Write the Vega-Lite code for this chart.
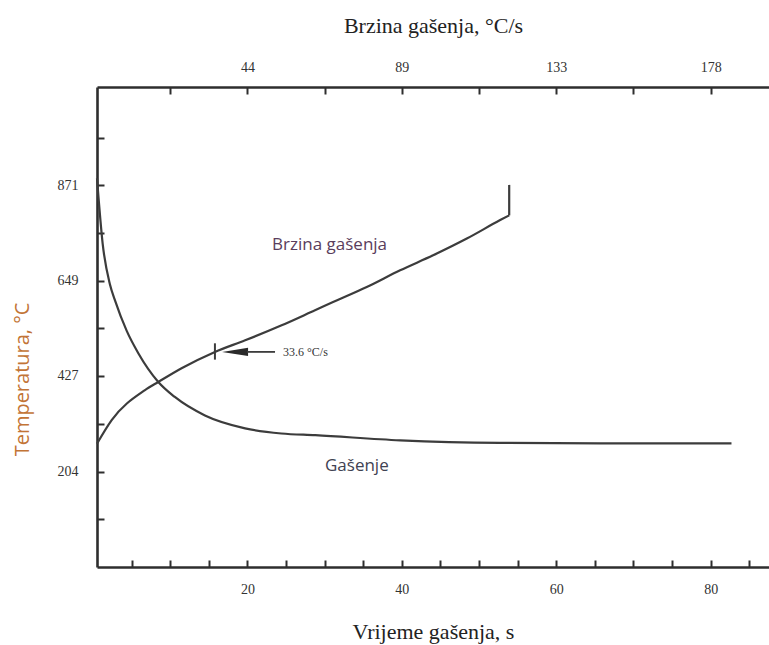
{
  "$schema": "https://vega.github.io/schema/vega-lite/v6.json",
  "width": 672,
  "height": 480,
  "autosize": {"type": "none"},
  "padding": {"left": 97, "top": 87, "right": 0, "bottom": 78},
  "background": "white",
  "config": {
    "view": {"stroke": null},
    "axis": {
      "domainColor": "#2e2e2e",
      "domainWidth": 2.6,
      "tickColor": "#2e2e2e",
      "tickWidth": 2,
      "tickSize": -7,
      "grid": false,
      "labelFont": "Liberation Serif",
      "labelFontSize": 14,
      "labelColor": "#333333",
      "titleFont": "Liberation Serif",
      "titleFontWeight": "normal",
      "titleFontSize": 22,
      "titleColor": "#222222"
    }
  },
  "datasets": {
    "quench": [
      {"t": 0.52, "T": 887},
      {"t": 1.26, "T": 734},
      {"t": 2.2, "T": 640},
      {"t": 2.85, "T": 603},
      {"t": 4.37, "T": 532},
      {"t": 5.87, "T": 480},
      {"t": 8.46, "T": 413},
      {"t": 10.6, "T": 378},
      {"t": 14.5, "T": 335},
      {"t": 19.7, "T": 305},
      {"t": 24.4, "T": 293},
      {"t": 28.8, "T": 289},
      {"t": 39.8, "T": 277},
      {"t": 52.7, "T": 271},
      {"t": 65.7, "T": 270},
      {"t": 82.7, "T": 270}
    ],
    "curveLabels": [
      {"t": 23.2, "T": 731, "label": "Brzina gašenja", "c": "a"},
      {"t": 30.05, "T": 217, "label": "Gašenje", "c": "b"}
    ],
    "rateCurve": [
      {"rate": 1.15, "T": 269},
      {"rate": 5.38, "T": 324},
      {"rate": 14.97, "T": 394},
      {"rate": 18.8, "T": 413},
      {"rate": 25.5, "T": 445},
      {"rate": 35.1, "T": 483},
      {"rate": 43.8, "T": 510},
      {"rate": 54.3, "T": 545},
      {"rate": 63.9, "T": 580},
      {"rate": 69.1, "T": 599},
      {"rate": 78.8, "T": 634},
      {"rate": 88.4, "T": 673},
      {"rate": 97.9, "T": 708},
      {"rate": 107.6, "T": 747},
      {"rate": 117.2, "T": 790},
      {"rate": 119.8, "T": 801}
    ],
    "rateEnd": [{"rate": 119.8, "T": 801, "T2": 872}],
    "marker": [{"rate": 35.1, "T": 465, "T2": 503}],
    "arrowHead": [{"rate": 40.9, "T": 483}],
    "arrowLine": [{"rate": 44.3, "rate2": 52.4, "T": 483}],
    "arrowText": [{"rate": 54.7, "T": 483, "label": "33.6 °C/s"}]
  },
  "layer": [
    {
      "layer": [
        {
          "data": {"name": "quench"},
          "mark": {"type": "line", "interpolate": "monotone", "color": "#3c3c3c", "strokeWidth": 2.2},
          "encoding": {
            "x": {
              "field": "t", "type": "quantitative",
              "scale": {"domain": [0.52, 87.56], "nice": false, "zero": false},
              "axis": {
                "orient": "bottom",
                "values": [5, 10, 15, 20, 25, 30, 35, 40, 45, 50, 55, 60, 65, 70, 75, 80, 85],
                "labelExpr": "datum.value % 20 == 0 ? datum.value : ''",
                "labelPadding": 22,
                "title": "Vrijeme gašenja, s",
                "titleX": 336,
                "titleY": 64,
                "titleBaseline": "middle",
                "titleAnchor": null
              }
            },
            "y": {
              "field": "T", "type": "quantitative",
              "scale": {"domain": [-18, 1100], "nice": false, "zero": false},
              "axis": {
                "values": [93, 204, 316, 427, 538, 649, 760, 871, 982],
                "labelExpr": "indexof([204, 427, 649, 871], datum.value) >= 0 ? datum.value : ''",
                "labelPadding": 26,
                "title": "Temperatura, °C",
                "titleFont": "Open Sans",
                "titleFontSize": 20,
                "titleColor": "#c27436",
                "titleAngle": 270,
                "titleX": -75,
                "titleY": 292,
                "titleAlign": "center",
                "titleBaseline": "middle"
              }
            }
          }
        },
        {
          "data": {"name": "curveLabels"},
          "mark": {"type": "text", "align": "left", "baseline": "middle", "font": "Open Sans", "fontSize": 17},
          "encoding": {
            "x": {"field": "t", "type": "quantitative", "scale": {"domain": [0.52, 87.56], "nice": false, "zero": false}},
            "y": {"field": "T", "type": "quantitative", "scale": {"domain": [-18, 1100], "nice": false, "zero": false}},
            "text": {"field": "label"},
            "color": {"field": "c", "type": "nominal", "scale": {"domain": ["a", "b"], "range": ["#5a3d5c", "#3f4252"]}, "legend": null}
          }
        }
      ]
    },
    {
      "layer": [
        {
          "data": {"name": "rateCurve"},
          "mark": {"type": "line", "interpolate": "monotone", "color": "#3c3c3c", "strokeWidth": 2.2},
          "encoding": {
            "x": {
              "field": "rate", "type": "quantitative",
              "scale": {"domain": [1.156, 194.58], "nice": false, "zero": false},
              "axis": {
                "orient": "top",
                "values": [22.22, 44.44, 66.67, 88.89, 111.11, 133.33, 155.56, 177.78],
                "labelExpr": "indexof([44.44, 88.89, 133.33, 177.78], datum.value) >= 0 ? format(datum.value, '.0f') : ''",
                "labelPadding": 20,
                "title": "Brzina gašenja, °C/s",
                "titleX": 336,
                "titleY": -62,
                "titleBaseline": "middle",
                "titleAnchor": null
              }
            },
            "y": {"field": "T", "type": "quantitative", "scale": {"domain": [-18, 1100], "nice": false, "zero": false}}
          }
        },
        {
          "data": {"name": "rateEnd"},
          "mark": {"type": "rule", "color": "#3c3c3c", "strokeWidth": 2.2},
          "encoding": {
            "x": {"field": "rate", "type": "quantitative", "scale": {"domain": [1.156, 194.58], "nice": false, "zero": false}},
            "y": {"field": "T", "type": "quantitative", "scale": {"domain": [-18, 1100], "nice": false, "zero": false}},
            "y2": {"field": "T2"}
          }
        },
        {
          "data": {"name": "marker"},
          "mark": {"type": "rule", "color": "#3c3c3c", "strokeWidth": 2},
          "encoding": {
            "x": {"field": "rate", "type": "quantitative", "scale": {"domain": [1.156, 194.58], "nice": false, "zero": false}},
            "y": {"field": "T", "type": "quantitative", "scale": {"domain": [-18, 1100], "nice": false, "zero": false}},
            "y2": {"field": "T2"}
          }
        },
        {
          "data": {"name": "arrowHead"},
          "mark": {"type": "point", "shape": "M -1 0 L 1 -0.32 L 1 0.32 Z", "size": 676, "filled": true, "color": "#2a2a2a", "opacity": 1},
          "encoding": {
            "x": {"field": "rate", "type": "quantitative", "scale": {"domain": [1.156, 194.58], "nice": false, "zero": false}},
            "y": {"field": "T", "type": "quantitative", "scale": {"domain": [-18, 1100], "nice": false, "zero": false}}
          }
        },
        {
          "data": {"name": "arrowLine"},
          "mark": {"type": "rule", "color": "#3c3c3c", "strokeWidth": 1.8},
          "encoding": {
            "x": {"field": "rate", "type": "quantitative", "scale": {"domain": [1.156, 194.58], "nice": false, "zero": false}},
            "x2": {"field": "rate2"},
            "y": {"field": "T", "type": "quantitative", "scale": {"domain": [-18, 1100], "nice": false, "zero": false}}
          }
        },
        {
          "data": {"name": "arrowText"},
          "mark": {"type": "text", "align": "left", "baseline": "middle", "font": "Liberation Serif", "fontSize": 12, "color": "#333333"},
          "encoding": {
            "x": {"field": "rate", "type": "quantitative", "scale": {"domain": [1.156, 194.58], "nice": false, "zero": false}},
            "y": {"field": "T", "type": "quantitative", "scale": {"domain": [-18, 1100], "nice": false, "zero": false}},
            "text": {"field": "label"}
          }
        }
      ]
    }
  ],
  "resolve": {"scale": {"x": "independent"}, "axis": {"x": "independent"}}
}
